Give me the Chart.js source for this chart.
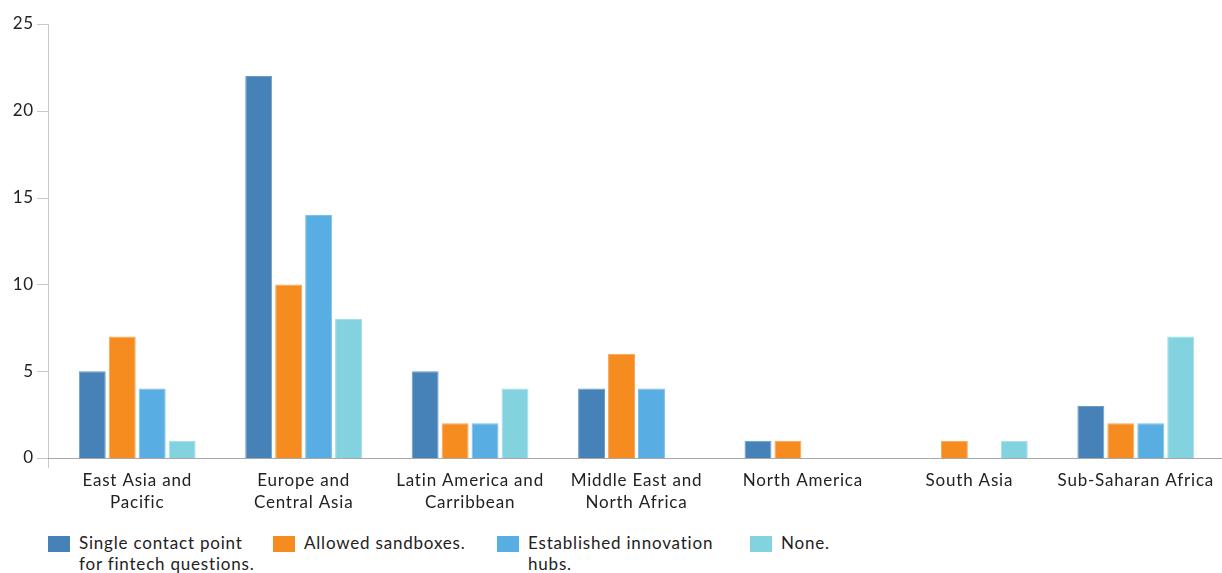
<!DOCTYPE html>
<html>
<head>
<meta charset="utf-8">
<script src="https://cdn.jsdelivr.net/npm/chart.js@4.4.1/dist/chart.umd.min.js"></script>
<style>
  html, body { margin: 0; padding: 0; background: #fff; }
  #wrap { position: relative; width: 1222px; height: 573px; overflow: hidden; }
  #cv { position: absolute; left: 0; top: 0; }
  #legend { position: absolute; left: 0; top: 533px; width: 1222px; height: 40px; font-family: Lato, sans-serif; font-size: 17px; letter-spacing: 0.8px; color: #222; }
  .item { position: absolute; top: 0; }
  .box { position: absolute; left: 0; top: 3px; width: 22px; height: 16px; }
  .txt { position: absolute; left: 31px; top: -1px; line-height: 21px; white-space: nowrap; }
</style>
</head>
<body>
<div id="wrap">
  <canvas id="cv" width="1222" height="525"></canvas>
  <div id="legend"></div>
</div>
<script>
const categories = [
  ["East Asia and", "Pacific"],
  ["Europe and", "Central Asia"],
  ["Latin America and", "Carribbean"],
  ["Middle East and", "North Africa"],
  "North America",
  "South Asia",
  "Sub-Saharan Africa"
];
const seriesNames = [
  ["Single contact point", "for fintech questions."],
  ["Allowed sandboxes."],
  ["Established innovation", "hubs."],
  ["None."]
];
const singleContact = [5, 22, 5, 4, 1, 0, 3];
const sandboxes = [7, 10, 2, 6, 1, 1, 2];
const innovationHubs = [4, 14, 2, 4, 0, 0, 2];
const none = [1, 8, 4, 0, 0, 1, 7];
const yTicks = [0, 5, 10, 15, 20, 25];

const colors = ["#4682b8", "#f68b1f", "#58aee2", "#82d2df"];
const borders = ["#6a9cc8", "#f8a659", "#7cc0ea", "#a3dee7"];
const seriesData = [singleContact, sandboxes, innovationHubs, none];
const legendX = [48, 273, 497, 750];

const spacingPlugin = {
  id: 'spacing',
  beforeUpdate(chart) { chart.ctx.letterSpacing = '0.8px'; },
  beforeDraw(chart) { chart.ctx.letterSpacing = '0.8px'; }
};

const axisPlugin = {
  id: 'axisLines',
  afterDraw(chart) {
    const { ctx, chartArea } = chart;
    const y = chart.scales.y;
    const ax = chartArea.left - 6;
    ctx.save();
    ctx.strokeStyle = '#c9c9c9';
    ctx.lineWidth = 1;
    ctx.beginPath();
    ctx.moveTo(ax + 0.5, chartArea.top);
    ctx.lineTo(ax + 0.5, chartArea.bottom + 10);
    yTicks.forEach(v => {
      const py = Math.round(y.getPixelForValue(v)) + 0.5;
      ctx.moveTo(ax - 11, py);
      ctx.lineTo(ax, py);
    });
    ctx.stroke();
    ctx.strokeStyle = '#a8a8a8';
    ctx.beginPath();
    const by = Math.round(chartArea.bottom) + 0.5;
    ctx.moveTo(ax, by);
    ctx.lineTo(chart.width, by);
    ctx.stroke();
    ctx.restore();
  }
};

new Chart(document.getElementById('cv'), {
  type: 'bar',
  data: {
    labels: categories,
    datasets: seriesData.map((d, i) => ({
      label: seriesNames[i].join(' '),
      data: d,
      backgroundColor: colors[i],
      borderColor: borders[i],
      borderWidth: 1,
      borderSkipped: 'bottom',
      categoryPercentage: 0.72,
      barPercentage: 0.9
    }))
  },
  options: {
    responsive: false,
    animation: false,
    devicePixelRatio: 1,
    layout: { padding: { top: 24, right: 3, left: 0, bottom: 0 } },
    plugins: { legend: { display: false }, tooltip: { enabled: false } },
    scales: {
      x: {
        grid: { display: false, drawTicks: false },
        border: { display: false },
        ticks: {
          color: '#222', padding: 11, maxRotation: 0, autoSkip: false,
          font: { family: 'Lato', size: 17, lineHeight: 1.3 }
        },
        afterFit(s) { s.height = 67; s.paddingLeft = 0; s.paddingRight = 0; }
      },
      y: {
        min: 0, max: 25,
        grid: { display: false, drawTicks: false },
        border: { display: false },
        ticks: {
          stepSize: 5, color: '#222', padding: 20,
          font: { family: 'Lato', size: 17 }
        },
        afterFit(s) { s.width = 54; s.paddingTop = 0; s.paddingBottom = 0; }
      }
    }
  },
  plugins: [spacingPlugin, axisPlugin]
});

const leg = document.getElementById('legend');
seriesNames.forEach((name, i) => {
  const it = document.createElement('div');
  it.className = 'item';
  it.style.left = legendX[i] + 'px';
  const b = document.createElement('div');
  b.className = 'box';
  b.style.background = colors[i];
  const t = document.createElement('div');
  t.className = 'txt';
  t.innerHTML = name.join('<br>');
  it.appendChild(b); it.appendChild(t);
  leg.appendChild(it);
});
</script>
</body>
</html>
